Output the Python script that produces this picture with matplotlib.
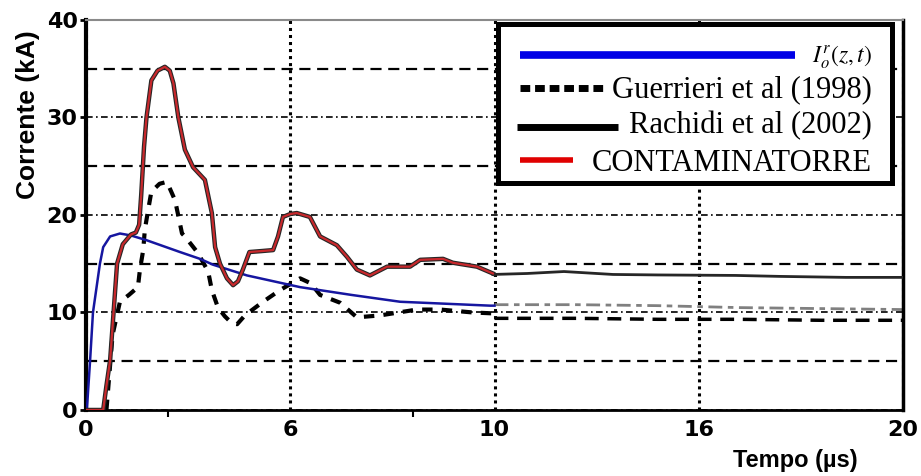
import matplotlib
matplotlib.use("Agg")
import matplotlib.pyplot as plt
from matplotlib.patches import Rectangle
from matplotlib.lines import Line2D

plt.rcParams["mathtext.fontset"] = "stix"

# CONTAMINATORRE, 0-10 us
contam_t = [0, 0.42, 0.50, 0.59, 0.76, 0.90, 1.10, 1.22, 1.30, 1.35, 1.42, 1.48,
            1.60, 1.75, 1.93, 2.05, 2.14, 2.26, 2.42, 2.62, 2.91, 3.08, 3.16,
            3.28, 3.45, 3.60, 3.72, 3.84, 4.00, 4.30, 4.58, 4.70, 4.82, 5.00,
            5.16, 5.48, 5.73, 6.14, 6.39, 6.63, 6.95, 7.37, 7.93, 8.18, 8.74,
            8.98, 9.57, 9.96]
contam_i = [0, 0, 2.5, 5.1, 15.0, 17.0, 18.0, 18.2, 19.0, 22.0, 27.0, 30.0,
            33.8, 34.8, 35.2, 34.8, 33.5, 30.0, 26.7, 24.9, 23.6, 20.2, 16.7,
            15.0, 13.5, 12.8, 13.2, 14.4, 16.2, 16.3, 16.4, 17.8, 19.8, 20.1,
            20.2, 19.8, 17.8, 16.9, 15.7, 14.4, 13.8, 14.7, 14.7, 15.4, 15.5,
            15.1, 14.7, 14.0]

# Rachidi et al (2002): follows CONTAMINATORRE up to 10 us, then this tail
rachidi_tail_t = [9.96, 10.8, 11.7, 12.9, 14.0, 15.9, 17.0, 18.6, 20.0]
rachidi_tail_i = [13.9, 14.0, 14.2, 13.9, 13.85, 13.8, 13.7, 13.6, 13.6]

# I_o^r(z,t)
blue_t = [0.02, 0.10, 0.17, 0.34, 0.42, 0.59, 0.83, 1.10, 1.49, 2.30, 2.79,
          3.11, 3.94, 5.24, 6.50, 7.69, 9.89, 10.0]
blue_i = [0, 5.1, 10.0, 15.0, 16.7, 17.8, 18.1, 17.9, 17.4, 16.2, 15.5,
          14.9, 13.8, 12.6, 11.8, 11.1, 10.7, 10.7]
gray_tail_t = [10.0, 12.0, 14.0, 16.0, 18.0, 20.0]
gray_tail_i = [10.8, 10.8, 10.7, 10.5, 10.4, 10.3]

# Guerrieri et al (1998)
guer_t = [0.50, 0.65, 0.83, 1.05, 1.27, 1.32, 1.40, 1.44, 1.52, 1.60, 1.80,
          1.98, 2.18, 2.35, 2.42, 2.74, 2.99, 3.08, 3.23, 3.40, 3.57, 3.70,
          3.89, 4.30, 4.75, 5.24, 5.50, 5.73, 6.22, 6.63, 7.20, 8.10, 8.67,
          9.47, 10.0]
guer_i = [0, 7.7, 11.1, 11.8, 12.6, 14.4, 16.4, 18.5, 20.5, 22.4, 23.2,
          23.4, 21.5, 18.1, 17.8, 16.1, 14.2, 12.3, 10.5, 9.6, 8.9, 8.8,
          9.7, 11.0, 12.3, 13.5, 13.0, 11.8, 11.0, 9.5, 9.7, 10.3, 10.3,
          10.0, 9.9]
guer_tail_t = [10.0, 12.0, 14.0, 16.0, 18.0, 20.0]
guer_tail_i = [9.4, 9.4, 9.3, 9.3, 9.2, 9.2]

x_ticks = [0, 5, 10, 15, 20]
x_tick_labels = ["0", "6", "10", "16", "20"]
y_ticks = [0, 10, 20, 30, 40]

fig = plt.figure(figsize=(9.21, 4.76), dpi=100)
ax = fig.add_axes([0.0934, 0.1387, 0.8871, 0.8193])

ax.plot(guer_t, guer_i, color="black", lw=3.0, linestyle=(0, (2.5, 2.2)),
        zorder=2)
ax.plot(guer_tail_t, guer_tail_i, color="black", lw=2.5,
        linestyle=(0, (4, 2.5)), zorder=2)
ax.plot(blue_t, blue_i, color="#1616a0", lw=1.8, zorder=3)
ax.plot(gray_tail_t, gray_tail_i, color="#808080", lw=2.0,
        linestyle=(0, (5, 2, 2, 2)), zorder=2)
# Rachidi lies under CONTAMINATORRE up to 10 us (shows as its dark edge)
ax.plot(contam_t, contam_i, color="#262626", lw=3.2, zorder=3)
ax.plot(rachidi_tail_t, rachidi_tail_i, color="#262626", lw=2.0, zorder=3)
ax.plot(contam_t, contam_i, color="#c8282c", lw=1.6, zorder=4)

ax.set_xlim(0, 20)
ax.set_ylim(0, 40)
ax.set_xticks(x_ticks)
ax.set_xticklabels(x_tick_labels)
ax.set_xticks([2, 8], minor=True)
ax.set_yticks(y_ticks)
ax.set_yticks([5, 15, 25, 35], minor=True)

ax.tick_params(axis="x", which="major", length=0, pad=7)
ax.tick_params(axis="x", which="minor", length=5, width=1.5, direction="out")
ax.tick_params(axis="y", which="major", length=4, width=2, pad=2)
ax.tick_params(axis="y", which="minor", length=0)
for lab in ax.get_xticklabels() + ax.get_yticklabels():
    lab.set_fontfamily("DejaVu Sans")
    lab.set_fontweight("bold")
    lab.set_fontsize(16)

ax.grid(axis="x", which="major", color="black", lw=2.2,
        linestyle=(0, (1, 1.3)))
ax.grid(axis="y", which="major", color="black", lw=1.2,
        linestyle=(0, (4, 2, 1, 2)))
ax.grid(axis="y", which="minor", color="black", lw=1.6,
        linestyle=(0, (5, 3)))

ax.spines["left"].set_linewidth(3)
ax.spines["bottom"].set_linewidth(2)
ax.spines["right"].set_linewidth(2.5)
ax.spines["top"].set_linewidth(1.5)
ax.spines["top"].set_color("#8a8a8a")

fig.text(0.030, 0.76, "Corrente (kA)", rotation=90, ha="center", va="center",
         family="Liberation Sans", weight="bold", fontsize=19)
fig.text(0.863, 0.033, "Tempo (\u00b5s)", ha="center", va="center",
         family="Liberation Sans", weight="bold", fontsize=17)

# legend box
ax.add_patch(Rectangle((0.504, 0.582), 0.4825, 0.408, transform=ax.transAxes,
                       facecolor="white", edgecolor="black", lw=3.6,
                       zorder=6, clip_on=False))
leg_lines = [
    ([0.531, 0.868], 0.910, dict(color="#0000e6", lw=5.5)),
    ([0.531, 0.635], 0.826, dict(color="black", lw=5.0,
                                 linestyle=(0, (1.4, 0.7)))),
    ([0.528, 0.651], 0.726, dict(color="black", lw=5.0)),
    ([0.531, 0.596], 0.641, dict(color="#e00000", lw=4.0)),
]
for xs, y, st in leg_lines:
    ax.add_line(Line2D(xs, [y, y], transform=ax.transAxes, zorder=7,
                       solid_capstyle="butt", **st))
leg_texts = [
    ("$I_o^r(z,t)$", 0.905, 17),
    ("Guerrieri et al (1998)", 0.821, 22),
    ("Rachidi et al (2002)", 0.728, 22),
    ("CONTAMINATORRE", 0.633, 22),
]
for txt, y, fs in leg_texts:
    ax.text(0.962, y, txt, transform=ax.transAxes, ha="right", va="center",
            family="Liberation Serif", fontsize=fs, zorder=7)

fig.savefig("out.png", dpi=100)
